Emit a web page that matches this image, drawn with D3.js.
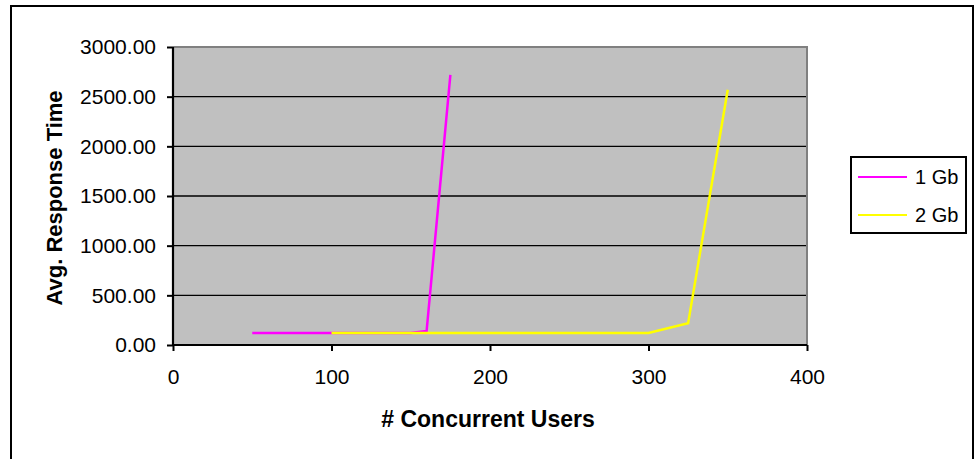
<!DOCTYPE html>
<html>
<head>
<meta charset="utf-8">
<script src="https://cdn.jsdelivr.net/npm/d3@7"></script>
<style>
  html, body { margin: 0; padding: 0; background: #fff; }
  svg { display: block; }
  text { font-family: "Liberation Sans", Arial, sans-serif; }
</style>
</head>
<body>
<svg id="chart" width="980" height="459"></svg>
<script>
// ---- data ----
const seriesNames = ["1 Gb", "2 Gb"];
const seriesColors = ["#FF00FF", "#FFFF00"];
const users1Gb = [50, 100, 150, 160, 175];
const resp1Gb = [120, 120, 120, 140, 2720];
const users2Gb = [100, 150, 200, 250, 300, 325, 350];
const resp2Gb = [120, 120, 120, 120, 120, 220, 2570];
const xTicks = [0, 100, 200, 300, 400];
const yTicks = [0, 500, 1000, 1500, 2000, 2500, 3000];
const xTitle = "# Concurrent Users";
const yTitle = "Avg. Response Time";

const series = [
  { name: seriesNames[0], color: seriesColors[0], pts: users1Gb.map((u, i) => [u, resp1Gb[i]]) },
  { name: seriesNames[1], color: seriesColors[1], pts: users2Gb.map((u, i) => [u, resp2Gb[i]]) }
];

const svg = d3.select("#chart");
const plot = { left: 173, right: 807, top: 47, bottom: 345 };

const x = d3.scaleLinear().domain([0, 400]).range([plot.left, plot.right]);
const y = d3.scaleLinear().domain([0, 3000]).range([plot.bottom, plot.top]);

// outer border
svg.append("rect")
  .attr("x", 11).attr("y", 6).attr("width", 962).attr("height", 470)
  .attr("fill", "#fff").attr("stroke", "#000").attr("stroke-width", 2);

// plot area
svg.append("rect")
  .attr("x", plot.left).attr("y", plot.top)
  .attr("width", plot.right - plot.left).attr("height", plot.bottom - plot.top)
  .attr("fill", "#C0C0C0");

// gridlines
svg.append("g").selectAll("line")
  .data(yTicks.filter(t => t > 0 && t < 3000))
  .join("line")
  .attr("x1", plot.left).attr("x2", plot.right)
  .attr("y1", d => y(d)).attr("y2", d => y(d))
  .attr("stroke", "#000").attr("stroke-width", 1.3);

// top and right plot border (gray)
svg.append("path")
  .attr("d", `M${plot.left},${plot.top}H${plot.right}V${plot.bottom}`)
  .attr("fill", "none").attr("stroke", "#808080").attr("stroke-width", 2);

// lines
const line = d3.line().x(d => x(d[0])).y(d => y(d[1]));
svg.append("g").selectAll("path")
  .data(series)
  .join("path")
  .attr("d", d => line(d.pts))
  .attr("fill", "none")
  .attr("stroke", d => d.color)
  .attr("stroke-width", 2.5);

// axes
const yAxis = d3.axisLeft(y).tickValues(yTicks).tickFormat(d3.format(".2f")).tickSize(6).tickPadding(11);
const xAxis = d3.axisBottom(x).tickValues(xTicks).tickFormat(d3.format("d")).tickSize(6).tickPadding(18);

const gy = svg.append("g").attr("transform", `translate(${plot.left},0)`).call(yAxis);
const gx = svg.append("g").attr("transform", `translate(0,${plot.bottom})`).call(xAxis);

[gx, gy].forEach(g => {
  g.select(".domain").attr("stroke", "#000").attr("stroke-width", 2.2);
  g.selectAll(".tick line").attr("stroke", "#000").attr("stroke-width", 2);
  g.selectAll(".tick text")
    .attr("font-family", '"Liberation Sans", Arial, sans-serif')
    .attr("font-size", 21)
    .attr("fill", "#000");
});
gy.select(".domain").attr("d", `M0,${plot.bottom + 1}V${plot.top}`);
gx.select(".domain").attr("d", `M${plot.left - 1},0H${plot.right}`);

// axis titles
svg.append("text")
  .attr("x", (plot.left + plot.right) / 2 - 2)
  .attr("y", 427)
  .attr("text-anchor", "middle")
  .attr("font-size", 23)
  .attr("font-weight", "bold")
  .text(xTitle);

svg.append("text")
  .attr("transform", `translate(62,198) rotate(-90)`)
  .attr("text-anchor", "middle")
  .attr("font-size", 22)
  .attr("font-weight", "bold")
  .text(yTitle);

// legend
const lg = svg.append("g");
lg.append("rect")
  .attr("x", 851).attr("y", 157).attr("width", 115).attr("height", 76)
  .attr("fill", "#fff").attr("stroke", "#000").attr("stroke-width", 2);
const items = lg.selectAll("g.item").data(series).join("g")
  .attr("transform", (d, i) => `translate(0,${177 + i * 38})`);
items.append("line")
  .attr("x1", 858).attr("x2", 907).attr("y1", 0).attr("y2", 0)
  .attr("stroke", d => d.color).attr("stroke-width", 2);
items.append("text")
  .attr("x", 915).attr("y", 0).attr("dy", "0.36em")
  .attr("font-size", 20)
  .text(d => d.name);
</script>
</body>
</html>
